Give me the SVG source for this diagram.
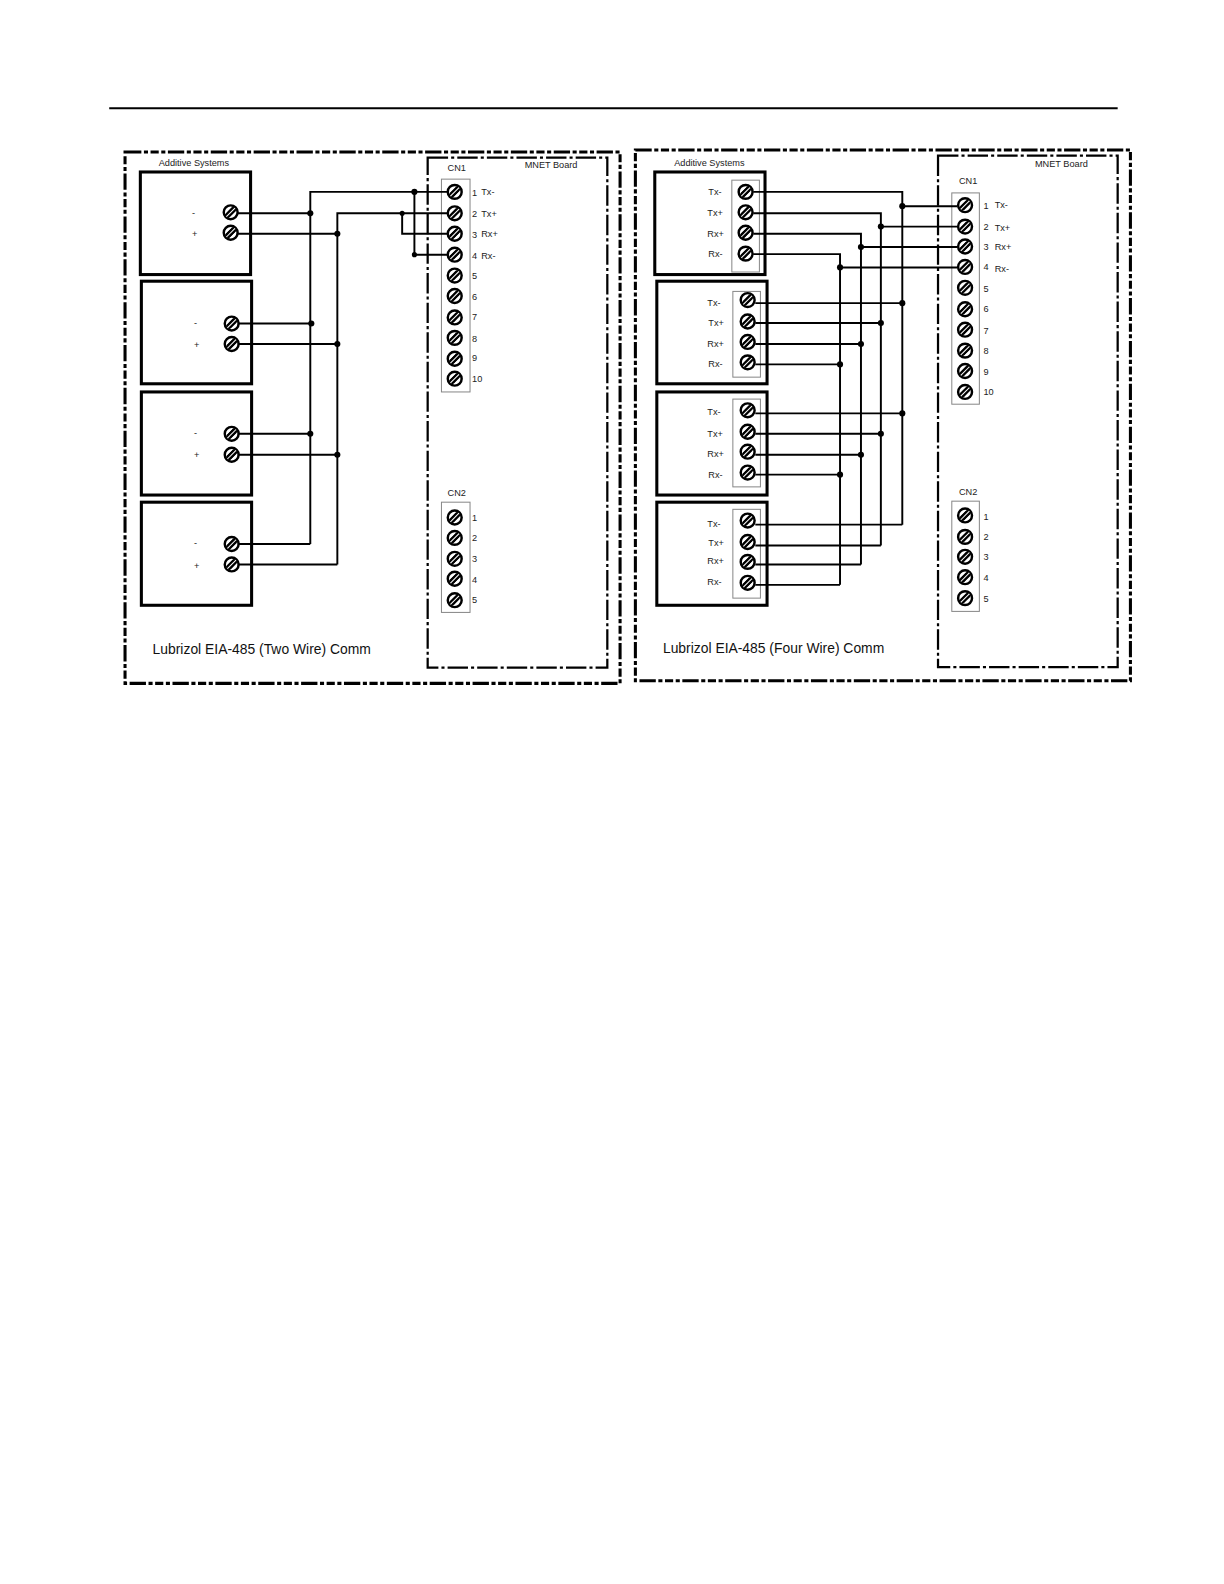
<svg xmlns="http://www.w3.org/2000/svg" width="1224" height="1584" viewBox="0 0 1224 1584">
<style>
text{font-family:"Liberation Sans",Arial,sans-serif;font-size:9px;fill:#222}
.cap{font-size:13.6px;fill:#111}
.frame{fill:none;stroke:#000;stroke-width:3;stroke-dasharray:16 2.5 4 2.5 8 2.5 4 2.5}
.inner{fill:none;stroke:#000;stroke-width:2.2;stroke-dasharray:20 3 3 3}
.box{fill:#fff;stroke:#000;stroke-width:3}
.strip{fill:#fff;stroke:#888;stroke-width:1}
.w{fill:none;stroke:#000;stroke-width:1.9}
.d{fill:#000}
</style>
<defs>
<g id="screw">
<circle r="6.8" fill="#fff" stroke="#000" stroke-width="2.4"/>
<path d="M-4.9 3.2 L3.2-4.9 M-3.2 4.9 L4.9-3.2" stroke="#000" stroke-width="2.6" fill="none"/>
<path d="M-4.5 1.5 L1.5-4.5 M-1.5 4.5 L4.5-1.5" stroke="#000" stroke-width="1.1" fill="none"/>
<path d="M-4.2 4.2 L4.2-4.2" stroke="#fff" stroke-width="1" fill="none"/>
</g>
</defs>
<rect width="1224" height="1584" fill="#fff"/>
<g transform="scale(1.0207)">
<line id="page-rule" x1="107" y1="106" x2="1095" y2="106" stroke="#000" stroke-width="2"/>

<g id="left-frame"><rect class="frame" x="122.500" y="149" width="485" height="520.500"/><text class="cap" x="149.500" y="641">Lubrizol EIA-485 (Two Wire) Comm</text></g>
<g id="left-mnet"><rect class="inner" x="419" y="154.500" width="176" height="499.500"/><text x="514" y="165">MNET Board</text></g>

<g id="l-sys1"><rect class="box" x="137.500" y="168.500" width="108" height="100.500"/><text x="155.500" y="163">Additive Systems</text><text x="188" y="212">-</text><text x="188" y="232">+</text><use href="#screw" x="226" y="208"/><use href="#screw" x="226" y="228"/></g>
<g id="l-sys2"><rect class="box" x="138.500" y="275.500" width="108" height="100.500"/><text x="190" y="319">-</text><text x="190" y="341">+</text><use href="#screw" x="227" y="317"/><use href="#screw" x="227" y="337"/></g>
<g id="l-sys3"><rect class="box" x="138.500" y="384" width="108" height="101"/><text x="190" y="427">-</text><text x="190" y="449">+</text><use href="#screw" x="227" y="425"/><use href="#screw" x="227" y="445.500"/></g>
<g id="l-sys4"><rect class="box" x="138.500" y="492" width="108" height="101"/><text x="190" y="535">-</text><text x="190" y="557">+</text><use href="#screw" x="227" y="533"/><use href="#screw" x="227" y="553"/></g>

<g id="l-cn1"><rect class="strip" x="432.500" y="175.500" width="28" height="208.500"/><text x="438.500" y="168">CN1</text>
<use href="#screw" x="445.500" y="188"/><use href="#screw" x="445.500" y="209"/><use href="#screw" x="445.500" y="229"/><use href="#screw" x="445.500" y="249.500"/><use href="#screw" x="445.500" y="270"/><use href="#screw" x="445.500" y="290"/><use href="#screw" x="445.500" y="311"/><use href="#screw" x="445.500" y="331"/><use href="#screw" x="445.500" y="351.500"/><use href="#screw" x="445.500" y="371"/>
<text x="462.500" y="192">1</text><text x="471.500" y="191">Tx-</text><text x="462.500" y="213">2</text><text x="471.500" y="213">Tx+</text><text x="462.500" y="233">3</text><text x="471.500" y="232">Rx+</text><text x="462.500" y="254">4</text><text x="471.500" y="254">Rx-</text><text x="462.500" y="273">5</text><text x="462.500" y="294">6</text><text x="462.500" y="314">7</text><text x="462.500" y="335">8</text><text x="462.500" y="354">9</text><text x="462.500" y="374">10</text></g>
<g id="l-cn2"><rect class="strip" x="432.500" y="492" width="28" height="108"/><text x="438.500" y="486">CN2</text>
<use href="#screw" x="445.500" y="507"/><use href="#screw" x="445.500" y="527"/><use href="#screw" x="445.500" y="547.500"/><use href="#screw" x="445.500" y="567"/><use href="#screw" x="445.500" y="588"/>
<text x="462.500" y="510">1</text><text x="462.500" y="530">2</text><text x="462.500" y="551">3</text><text x="462.500" y="571">4</text><text x="462.500" y="591">5</text></g>

<g id="r-frame"><rect class="frame" x="622.500" y="147" width="485" height="520"/><text class="cap" x="649.500" y="640">Lubrizol EIA-485 (Four Wire) Comm</text></g>
<g id="r-mnet"><rect class="inner" x="919" y="152.500" width="176" height="501"/><text x="1014" y="164">MNET Board</text></g>

<g id="r-sys1"><rect class="box" x="641.500" y="168.500" width="108" height="100.500"/><text x="660.500" y="163">Additive Systems</text><rect class="strip" x="717" y="176.500" width="27" height="90"/>
<text x="694" y="191">Tx-</text><text x="693" y="212">Tx+</text><text x="693" y="232">Rx+</text><text x="694" y="252">Rx-</text>
<use href="#screw" x="730.500" y="188"/><use href="#screw" x="730.500" y="208"/><use href="#screw" x="730.500" y="228"/><use href="#screw" x="730.500" y="248.500"/></g>
<g id="r-sys2"><rect class="box" x="643.500" y="275.500" width="108" height="100.500"/><rect class="strip" x="718" y="285.500" width="27" height="84"/>
<text x="693" y="300">Tx-</text><text x="694" y="319">Tx+</text><text x="693" y="340">Rx+</text><text x="694" y="360">Rx-</text>
<use href="#screw" x="732.500" y="294"/><use href="#screw" x="732.500" y="315"/><use href="#screw" x="732.500" y="335"/><use href="#screw" x="732.500" y="355"/></g>
<g id="r-sys3"><rect class="box" x="643.500" y="384" width="108" height="101"/><rect class="strip" x="718" y="391" width="27" height="86"/>
<text x="693" y="407">Tx-</text><text x="693" y="428">Tx+</text><text x="693" y="448">Rx+</text><text x="694" y="468">Rx-</text>
<use href="#screw" x="732.500" y="402"/><use href="#screw" x="732.500" y="423"/><use href="#screw" x="732.500" y="442.500"/><use href="#screw" x="732.500" y="463"/></g>
<g id="r-sys4"><rect class="box" x="643.500" y="492" width="108" height="101"/><rect class="strip" x="718" y="499" width="27" height="87"/>
<text x="693" y="516">Tx-</text><text x="694" y="535">Tx+</text><text x="693" y="553">Rx+</text><text x="693" y="573">Rx-</text>
<use href="#screw" x="732.500" y="510"/><use href="#screw" x="732.500" y="531"/><use href="#screw" x="732.500" y="550.500"/><use href="#screw" x="732.500" y="571"/></g>

<g id="r-cn1"><rect class="strip" x="932.500" y="189" width="27" height="207"/><text x="939.500" y="180">CN1</text>
<use href="#screw" x="945.500" y="201"/><use href="#screw" x="945.500" y="222"/><use href="#screw" x="945.500" y="241.500"/><use href="#screw" x="945.500" y="261.500"/><use href="#screw" x="945.500" y="282"/><use href="#screw" x="945.500" y="303"/><use href="#screw" x="945.500" y="323"/><use href="#screw" x="945.500" y="343.500"/><use href="#screw" x="945.500" y="363.500"/><use href="#screw" x="945.500" y="384"/>
<text x="963.500" y="205">1</text><text x="974.500" y="204">Tx-</text><text x="963.500" y="225">2</text><text x="974.500" y="226">Tx+</text><text x="963.500" y="245">3</text><text x="974.500" y="245">Rx+</text><text x="963.500" y="265">4</text><text x="974.500" y="266">Rx-</text><text x="963.500" y="286">5</text><text x="963.500" y="306">6</text><text x="963.500" y="327">7</text><text x="963.500" y="347">8</text><text x="963.500" y="367">9</text><text x="963.500" y="387">10</text></g>
<g id="r-cn2"><rect class="strip" x="932.500" y="491" width="27" height="108"/><text x="939.500" y="485">CN2</text>
<use href="#screw" x="945.500" y="505"/><use href="#screw" x="945.500" y="526"/><use href="#screw" x="945.500" y="545.500"/><use href="#screw" x="945.500" y="565.500"/><use href="#screw" x="945.500" y="586"/>
<text x="963.500" y="509">1</text><text x="963.500" y="529">2</text><text x="963.500" y="549">3</text><text x="963.500" y="569">4</text><text x="963.500" y="590">5</text></g>

<g id="connectors">
<path class="w" d="M304 533V188H438M330.500 553V209H438M406 188V249.500H438M394 209V229H438"/>
<path class="w" d="M233 209H304M233 229H330.500M233 317H304M233 337H330.500M233 425H304M233 445.500H330.500M233 533H304M233 553H330.500"/>
<path class="w" d="M738 188H884V514M738 209H863V534.500M738 229H843.500V553M738 249H823V573"/>
<path class="w" d="M884 202H938M863 222H938M843.500 242H938M823 262H938"/>
<path class="w" d="M740 297H884M740 316.500H863M740 337H843.500M740 357H823M740 405H884M740 425H863M740 445.500H843.500M740 465H823M740 514H884M740 534.500H863M740 553H843.500M740 573H823"/>
<g class="d">
<circle cx="304" cy="209" r="3"/><circle cx="330.500" cy="229" r="3"/><circle cx="305" cy="317" r="3"/><circle cx="330.500" cy="337" r="3"/><circle cx="304" cy="425" r="3"/><circle cx="330.500" cy="445.500" r="3"/><circle cx="406" cy="188" r="3"/><circle cx="394" cy="209" r="2.500"/><circle cx="406" cy="249.500" r="2.500"/>
<circle cx="884" cy="202" r="3"/><circle cx="863" cy="222" r="3"/><circle cx="843.500" cy="242" r="3"/><circle cx="823" cy="262" r="3"/>
<circle cx="884" cy="297" r="3"/><circle cx="863" cy="316.500" r="3"/><circle cx="843.500" cy="337" r="3"/><circle cx="823" cy="357" r="3"/>
<circle cx="884" cy="405" r="3"/><circle cx="863" cy="425" r="3"/><circle cx="843.500" cy="445.500" r="3"/><circle cx="823" cy="465" r="3"/>
</g>
</g>
</g>
</svg>
